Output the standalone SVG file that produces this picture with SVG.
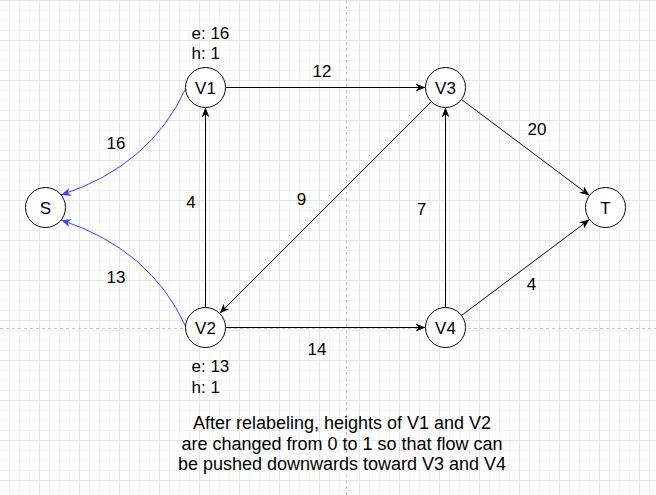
<svg xmlns="http://www.w3.org/2000/svg" width="656" height="495" viewBox="0 0 656 495">
  <style>
    text { font-family: "Liberation Sans", Arial, Helvetica, sans-serif; fill: #000; }
    .n { font-size: 17px; text-anchor: middle; }
    .e { font-size: 17px; text-anchor: middle; }
    .a { font-size: 17px; }
    .note { font-size: 18px; text-anchor: middle; }
    .node { fill: #fff; stroke: #000; stroke-width: 1; }
    .edge { fill: none; stroke: #000; stroke-width: 1; marker-end: url(#arrowK); }
    .back { fill: none; stroke: #4040ff; stroke-width: 1; marker-end: url(#arrowB); }
    .minor { stroke: #f2f2f2; stroke-width: 1; }
    .major { stroke: #e4e4e4; stroke-width: 1; }
    .page { stroke: #c4c4c4; stroke-width: 1; stroke-dasharray: 3 3; }
  </style>
  <defs>
    <pattern id="grid" x="0" y="0" width="40" height="40" patternUnits="userSpaceOnUse">
      <path class="minor" d="M9.5,0V40M19.5,0V40M29.5,0V40M0,10.5H40M0,20.5H40M0,30.5H40"/>
      <path class="major" d="M39.5,0V40M0,0.5H40"/>
    </pattern>
    <marker id="arrowK" viewBox="0 0 10 8" refX="10" refY="4" markerWidth="10" markerHeight="8" markerUnits="userSpaceOnUse" orient="auto">
      <path d="M0,0 L10,4 L0,8 L3,4 Z" fill="#000"/>
    </marker>
    <marker id="arrowB" viewBox="0 0 10 8" refX="10" refY="4" markerWidth="10" markerHeight="8" markerUnits="userSpaceOnUse" orient="auto">
      <path d="M0,0 L10,4 L0,8 L3,4 Z" fill="#4040ff"/>
    </marker>
  </defs>

  <rect width="656" height="495" fill="#fff"/>
  <rect width="656" height="495" fill="url(#grid)"/>
  <path class="page" d="M346.5,0V495M0,328.5H656"/>

  <g id="connectors">
    <path class="edge" d="M225.5,87.5 L425.5,87.5"/>
    <path class="edge" d="M461.5,99.5 L589.5,195.5"/>
    <path class="edge" d="M445.5,307.5 L445.5,107.5"/>
    <path class="edge" d="M461.5,315.5 L589.5,219.5"/>
    <path class="edge" d="M431.4,101.6 L219.6,313.4"/>
    <path class="edge" d="M205.5,307.5 L205.5,107.5"/>
    <path class="edge" d="M225.5,327.5 L425.5,327.5"/>
    <path class="back" d="M185.5,89 Q150,166 61,195"/>
    <path class="back" d="M185.5,326 Q150,249 61,220"/>
    <text class="e" x="322" y="77">12</text>
    <text class="e" x="537" y="135">20</text>
    <text class="e" x="421.5" y="215">7</text>
    <text class="e" x="531.5" y="290">4</text>
    <text class="e" x="301.5" y="205">9</text>
    <text class="e" x="191" y="207.5">4</text>
    <text class="e" x="317" y="355">14</text>
    <text class="e" x="116" y="148.5">16</text>
    <text class="e" x="116" y="282.5">13</text>
  </g>

  <g id="S">
    <circle class="node" cx="45.5" cy="207.5" r="20"/>
    <text class="n" x="45.5" y="213.5">S</text>
  </g>
  <g id="V1">
    <circle class="node" cx="205.5" cy="87.5" r="20"/>
    <text class="n" x="205.5" y="93.5">V1</text>
    <text class="a" x="191.5" y="39">e: 16</text>
    <text class="a" x="191.5" y="59">h: 1</text>
  </g>
  <g id="V2">
    <circle class="node" cx="205.5" cy="327.5" r="20"/>
    <text class="n" x="205.5" y="333.5">V2</text>
    <text class="a" x="191.5" y="371.5">e: 13</text>
    <text class="a" x="191.5" y="392.5">h: 1</text>
  </g>
  <g id="V3">
    <circle class="node" cx="445.5" cy="87.5" r="20"/>
    <text class="n" x="445.5" y="93.5">V3</text>
  </g>
  <g id="V4">
    <circle class="node" cx="445.5" cy="327.5" r="20"/>
    <text class="n" x="445.5" y="333.5">V4</text>
  </g>
  <g id="T">
    <circle class="node" cx="605.5" cy="207.5" r="20"/>
    <text class="n" x="605.5" y="213.5">T</text>
  </g>

  <g id="note">
    <text class="note" x="342" y="429">After relabeling, heights of V1 and V2</text>
    <text class="note" x="342" y="449.5">are changed from 0 to 1 so that flow can</text>
    <text class="note" x="342" y="470">be pushed downwards toward V3 and V4</text>
  </g>
</svg>
